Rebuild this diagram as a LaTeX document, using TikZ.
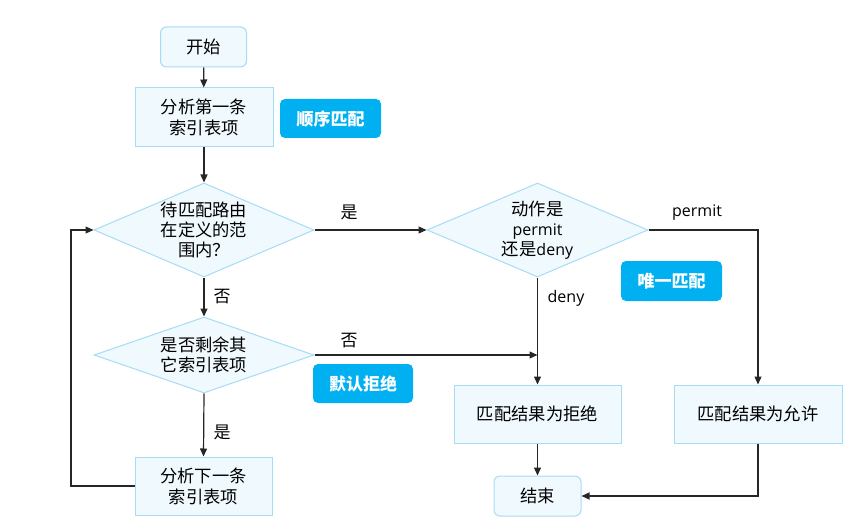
\documentclass[tikz,border=0pt]{standalone}
\usepackage{fontspec}
\setmainfont{Open Sans}
\newfontfamily\cjk{Noto Sans CJK SC}
\usetikzlibrary{shapes.geometric,arrows.meta}
\definecolor{nfill}{HTML}{F0F9FE}
\definecolor{nline}{HTML}{A6DCF5}
\definecolor{badge}{HTML}{00B0F0}
\newcommand{\cjkfs}{\cjk\fontsize{17.3}{21}\selectfont}
\tikzset{
  base/.style={draw=nline, fill=nfill, line width=1pt, inner sep=0pt, align=center,
    font=\cjkfs},
  roundbox/.style={base, rectangle, rounded corners=6pt},
  procbox/.style={base, rectangle},
  dia/.style={base, diamond},
  diatext/.style={inner sep=0pt, align=center, font=\cjk\fontsize{17.3}{20}\selectfont},
  badgebox/.style={rectangle, rounded corners=5pt, fill=badge, text=white, inner sep=0pt,
    font=\cjk\bfseries\fontsize{17}{20}\selectfont},
  arr/.style={draw=black!85, line width=1.2pt, -{Triangle[length=8pt,width=7pt]}},
  lbl/.style={inner sep=0pt, font=\fontsize{16}{20}\selectfont},
  cjklbl/.style={inner sep=0pt, font=\cjk\fontsize{17}{20}\selectfont}
}
\begin{document}
\begin{tikzpicture}[x=1pt,y=-1pt]
\useasboundingbox (0,0) rectangle (860,532);
% nodes
\node[roundbox, minimum width=86pt, minimum height=40pt] (start) at (203.5,47) {开始};
\node[procbox, minimum width=138pt, minimum height=59pt] (box1) at (204,117.5) {分析第一条\\索引表项};
\node[badgebox, minimum width=101pt, minimum height=39pt] (bg1) at (330.5,118.5) {顺序匹配};
\node[dia, minimum width=220pt, minimum height=94pt] (d1) at (204,230) {};
\node[diatext] (t1) at (d1) {待匹配路由\\在定义的范\\围内？};
\node[dia, minimum width=221pt, minimum height=94pt] (d2) at (537.5,230) {};
\node[diatext, font=\fontsize{16}{20}\selectfont] (t2) at (d2) {{\cjk\fontsize{17.3}{20}\selectfont 动作是}\\permit\\{\cjk\fontsize{17.3}{20}\selectfont 还是}deny};
\node[badgebox, minimum width=101pt, minimum height=40pt] (bg2) at (671.5,281) {唯一匹配};
\node[dia, minimum width=220pt, minimum height=76pt] (d3) at (204,355) {};
\node[diatext] (t3) at (d3) {是否剩余其\\它索引表项};
\node[badgebox, minimum width=100pt, minimum height=39pt] (bg3) at (363,383.5) {默认拒绝};
\node[procbox, minimum width=137pt, minimum height=58pt] (box3) at (203.5,486) {分析下一条\\索引表项};
\node[procbox, minimum width=167pt, minimum height=58pt] (boxR) at (537.5,414) {匹配结果为拒绝};
\node[procbox, minimum width=168pt, minimum height=58pt] (boxP) at (758,414) {匹配结果为允许};
\node[roundbox, minimum width=87pt, minimum height=40pt] (end) at (537.5,496) {结束};
\coordinate (lp) at (71,0);
% connectors
\draw[arr] (start) -- (box1);
\draw[arr] (box1) -- (d1);
\draw[arr] (d1.east) -- (d2.west);
\node[cjklbl] (l1) at (349,212) {是};
\draw[arr] (d2.east) -| (boxP.north);
\node[lbl] (l2) at (697,213) {permit};
\draw[arr] (d2.south) -- (boxR.north);
\node[lbl] (l3) at (566,298) {deny};
\draw[arr] (d1.south) -- (d3.north);
\node[cjklbl] (l4) at (222,297) {否};
\draw[arr] (d3.east) -- (d3.east -| boxR.north);
\node[cjklbl] (l5) at (349,341) {否};
\draw[arr] (d3.south) -- (box3.north);
\node[cjklbl] (l6) at (222,432) {是};
\draw[arr] (box3.west) -- (box3.west -| lp) |- (d1.west);
\draw[arr] (boxR.south) -- (end.north);
\draw[arr] (boxP.south) |- (end.east);
\end{tikzpicture}
\end{document}
